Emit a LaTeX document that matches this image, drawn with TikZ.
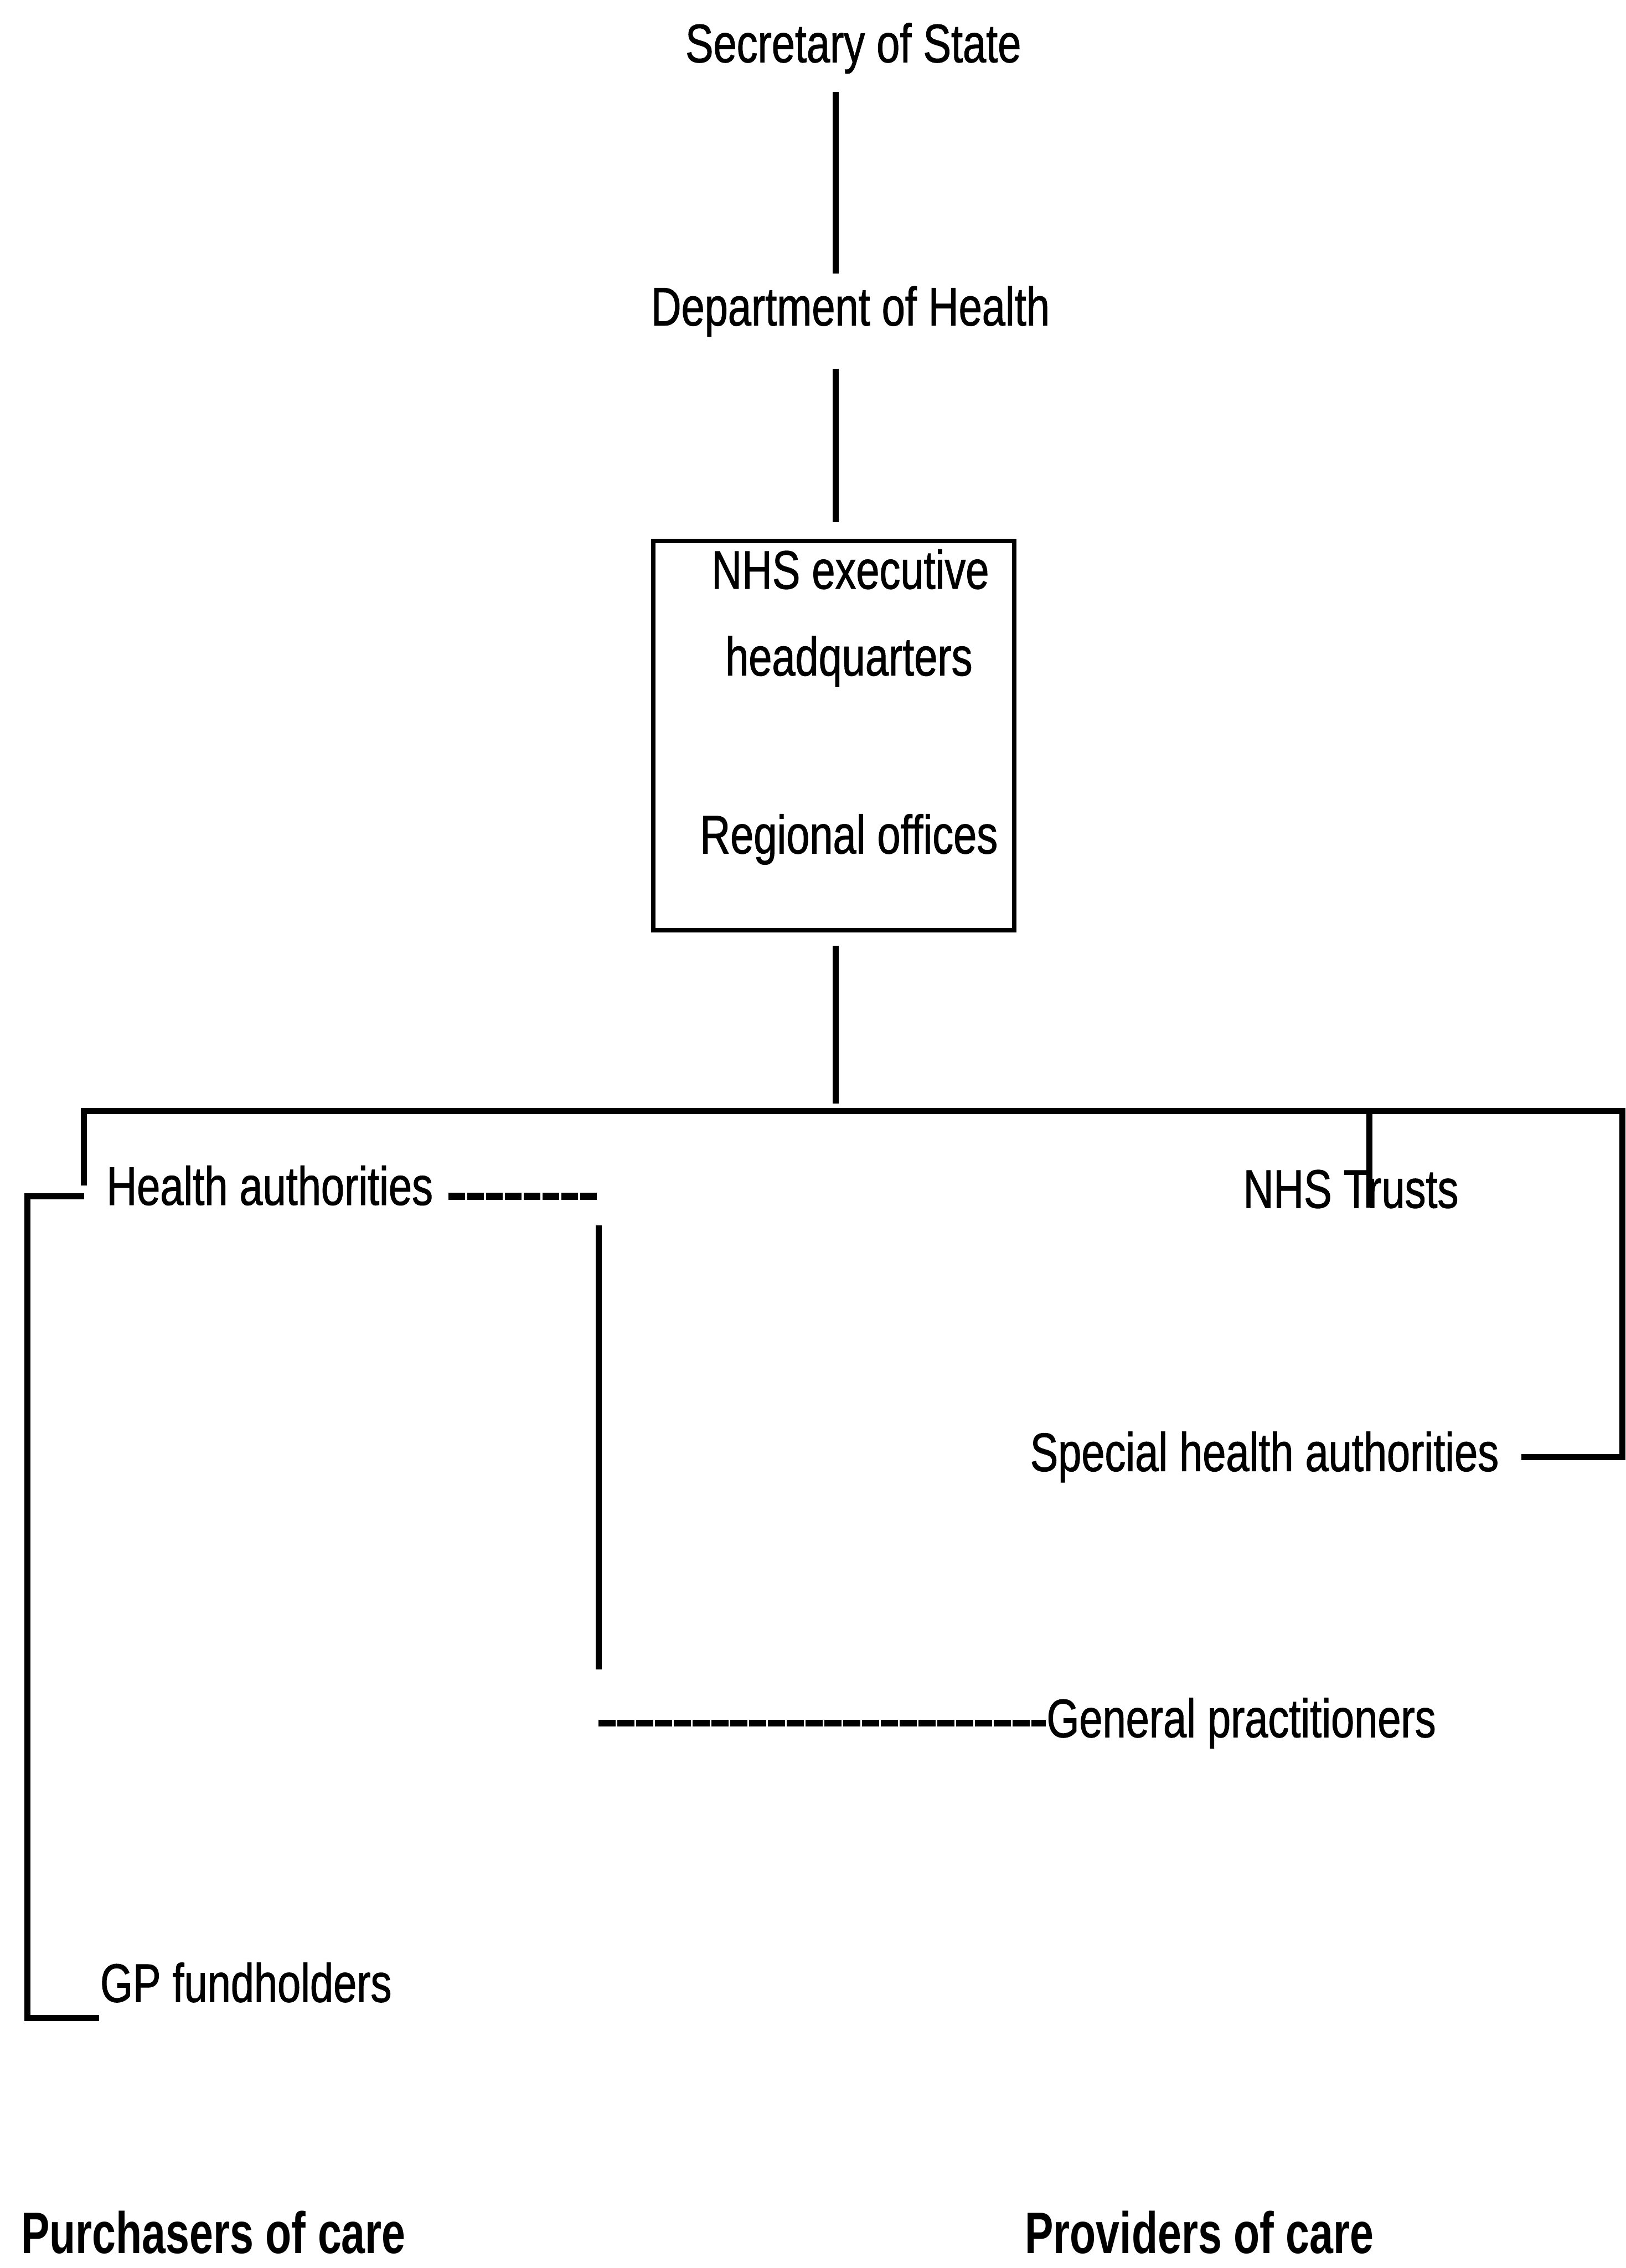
\documentclass[tikz,border=0pt]{standalone}
\usepackage{fontspec}
\setmainfont{Liberation Sans}[FakeStretch=0.773, FakeBold=1]
\newfontfamily\headfont{Liberation Sans}[FakeStretch=0.73]
\begin{document}
\begin{tikzpicture}[x=0.01cm, y=-0.01cm,
    every node/.style={inner sep=0pt, font=\fontsize{10.67}{12}\selectfont},
    titletext/.style={font=\headfont\bfseries\fontsize{11.5}{13}\selectfont},
    conn/.style={line width=1.2pt},
    dashconn/.style={line width=1.4pt, dash pattern=on 3.3pt off 0.4pt},
    officebox/.style={draw, line width=0.9pt, minimum width=2.495cm, minimum height=2.69cm}]
    \useasboundingbox (0,0) rectangle (1124,1568);

    % Top of the hierarchy
    \node[anchor=base] (A1) at (590, 43) {Secretary of State};
    \node[anchor=base] (B1) at (588, 225) {Department of Health};

    % NHS executive box
    \node[officebox] (C1) at (576.5, 508.5) {};
    \node[anchor=base] (C2) at (588, 407) {NHS executive};
    \node[anchor=base] (C3) at (587, 467) {headquarters};
    \node[anchor=base] (C4) at (587, 590) {Regional offices};

    % Second level
    \node[anchor=base west] (D1) at (73, 833) {Health authorities};
    \node[anchor=base west] (D2) at (859, 835) {NHS Trusts};
    \node[anchor=base west] (E1) at (711.6, 1017) {Special health authorities};
    \node[anchor=base west] (F1) at (723, 1201) {General practitioners};
    \node[anchor=base west] (G1) at (68.6, 1384) {GP fundholders};

    % Bottom titles
    \node[titletext, anchor=base west] (H1) at (14, 1558) {Purchasers of care};
    \node[titletext, anchor=base west] (H2) at (708, 1558) {Providers of care};

    % Helper points
    \coordinate (spine) at (578, 0);
    \coordinate (busL) at (58, 768);
    \coordinate (busR) at (1122, 768);
    \coordinate (trTop) at (947, 768);
    \coordinate (purT) at (19, 827);
    \coordinate (purB) at (19, 1395);
    \coordinate (gpT) at (414, 827);

    % Edges down the spine
    \draw[conn, shorten <=0.12cm, shorten >=0.08cm] (A1.south -| spine) -- (B1.north -| spine);
    \draw[conn, shorten <=0.215cm, shorten >=0.115cm] (B1.south -| spine) -- (C1.north -| spine);
    \draw[conn, shorten <=0.09cm, shorten >=0.05cm] (C1.south -| spine) -- (spine |- busL);

    % Main bus
    \draw[conn, shorten >=0.15cm] (D1.west -| busL) -- (busL) -- (busR) -- (busR |- E1.east) -- (E1.east);
    \draw[conn] (trTop) -- (trTop |- D2.base);

    % Purchasers bracket
    \draw[conn] (purT -| busL) -- (purT) -- (purB) -- (purB -| G1.west);

    % Health authorities to general practitioners
    \draw[dashconn, shorten <=0.1cm] (D1.east |- gpT) -- (gpT);
    \draw[conn, shorten <=0.2cm, shorten >=0.37cm] (gpT) -- (gpT |- F1.west);
    \draw[dashconn] (gpT |- F1.west) -- (F1.west);
\end{tikzpicture}
\end{document}
